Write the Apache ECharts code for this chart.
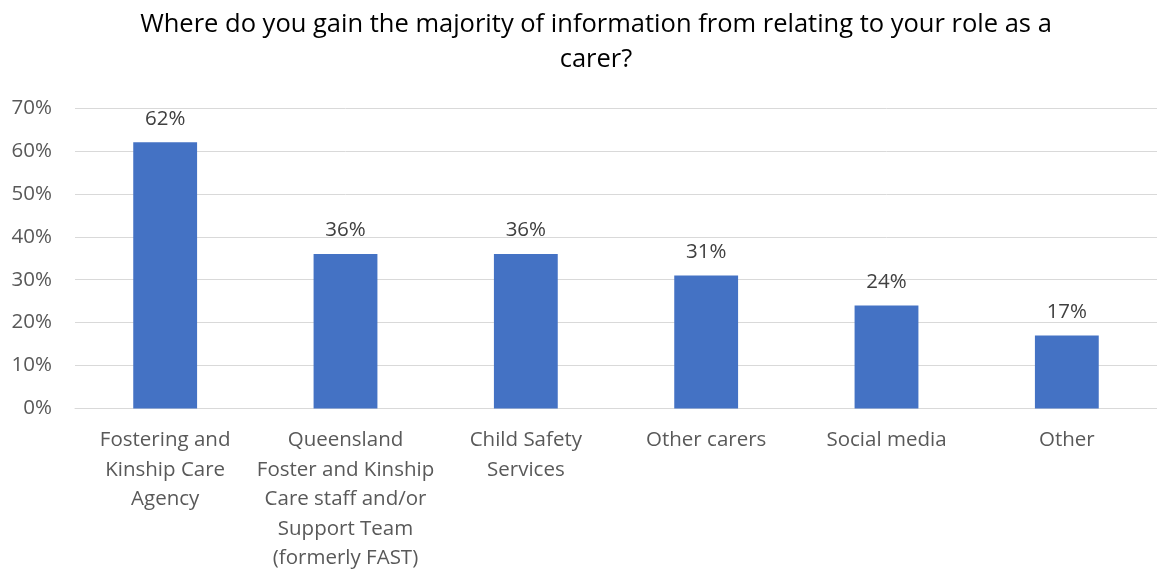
<!DOCTYPE html>
<html><head><meta charset="utf-8">
<script src="https://cdn.jsdelivr.net/npm/echarts@6/dist/echarts.min.js"></script>
<style>html,body{margin:0;padding:0;background:#fff}#c{width:1157px;height:573px}</style>
</head><body><div id="c"></div>
<script>
const categories = [
  "Fostering and\nKinship Care\nAgency",
  "Queensland\nFoster and Kinship\nCare staff and/or\nSupport Team\n(formerly FAST)",
  "Child Safety\nServices",
  "Other carers",
  "Social media",
  "Other"
];
const values = [62, 36, 36, 31, 24, 17];
const titleText = "Where do you gain the majority of information from relating to your role as a\ncarer?";
const FONT = "'Open Sans', sans-serif";

const chart = echarts.init(document.getElementById('c'));
chart.setOption({
  animation: false,
  title: {
    text: titleText, left: 591, top: 2, textAlign: 'center',
    textStyle: { fontFamily: FONT, fontSize: 25.5, fontWeight: 'normal', color: '#000', lineHeight: 35 }
  },
  grid: { left: 75, top: 108, width: 1085, height: 303, containLabel: false },
  xAxis: {
    type: 'category', data: categories,
    axisLine: { show: true, lineStyle: { color: '#d9d9d9', width: 1 } },
    axisTick: { show: false },
    axisLabel: { fontFamily: FONT, fontSize: 20.5, color: '#595959', lineHeight: 29.5, margin: 17, interval: 0 }
  },
  yAxis: {
    type: 'value', min: 0, max: 70, interval: 10,
    axisLabel: { formatter: '{value}%', fontFamily: FONT, fontSize: 20.5, color: '#595959', margin: 23 },
    splitLine: { lineStyle: { color: '#d9d9d9', width: 1 } },
    axisLine: { show: false }, axisTick: { show: false }
  },
  series: [{
    type: 'bar', data: values, barWidth: '35.4%',
    itemStyle: { color: '#4472c4' },
    label: { show: true, position: 'top', distance: 13, formatter: '{c}%', fontFamily: FONT, fontSize: 20.5, color: '#404040' }
  }]
});
</script></body></html>
